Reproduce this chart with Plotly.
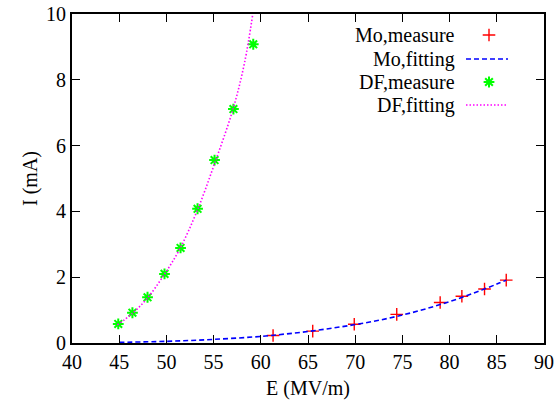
import plotly.graph_objects as go

# ---- data ----
mo_meas_E = [61.3, 65.5, 69.9, 74.4, 79.0, 81.3, 83.7, 86.0]
mo_meas_I = [0.23, 0.36, 0.57, 0.87, 1.23, 1.42, 1.64, 1.91]

mo_fit_E = [45, 50, 55, 60, 62.5, 65, 67.5, 70, 72.5, 75, 77.5, 80, 82.5, 85, 86]
mo_fit_I = [0.02, 0.05, 0.11, 0.20, 0.27, 0.35, 0.45, 0.56, 0.69, 0.85, 1.04, 1.26, 1.51, 1.79, 1.91]

df_meas_E = [44.9, 46.4, 48.0, 49.8, 51.5, 53.3, 55.1, 57.1, 59.2]
df_meas_I = [0.58, 0.92, 1.39, 2.10, 2.89, 4.08, 5.56, 7.11, 9.08]

df_fit_E = [44.8, 46.4, 48.0, 49.7, 51.4, 53.2, 55.1, 57.1, 58.3, 59.15]
df_fit_I = [0.55, 0.90, 1.37, 2.05, 2.85, 3.98, 5.45, 7.15, 8.55, 10.0]

legend_labels = ["Mo,measure", "Mo,fitting", "DF,measure", "DF,fitting"]
x_ticks = [40, 45, 50, 55, 60, 65, 70, 75, 80, 85, 90]
y_ticks = [0, 2, 4, 6, 8, 10]

FONT = "Liberation Serif, Times New Roman, Times, serif"
RED, BLUE, GREEN, MAGENTA = "#ff0000", "#0000ff", "#00ff00", "#ff00ff"

mo_marker = dict(symbol="cross-thin-open", size=9, color=RED, line=dict(color=RED, width=1.4))
df_marker = dict(symbol="asterisk-open", size=9, color=GREEN, line=dict(color=GREEN, width=2))
mo_line = dict(color=BLUE, width=1.6, dash="5px,3px", shape="spline")
df_line = dict(color=MAGENTA, width=1.6, dash="1.5px,2px", shape="spline")

fig = go.Figure()
fig.add_trace(go.Scatter(x=mo_meas_E, y=mo_meas_I, mode="markers", marker=mo_marker, showlegend=False))
fig.add_trace(go.Scatter(x=mo_fit_E, y=mo_fit_I, mode="lines", line=mo_line, showlegend=False))
fig.add_trace(go.Scatter(x=df_meas_E, y=df_meas_I, mode="markers", marker=df_marker, showlegend=False))
fig.add_trace(go.Scatter(x=df_fit_E, y=df_fit_I, mode="lines", line=df_line, showlegend=False))

# ---- gnuplot-style key (text right, sample on the right) on a pixel overlay axis ----
key_rows_y = [35, 59, 82, 105]
key_text_x = 457
key_sample_x = 489
key_line_x = [466, 508]
fig.add_trace(go.Scatter(x=[key_sample_x], y=[key_rows_y[0]], mode="markers", marker=mo_marker,
                         xaxis="x2", yaxis="y2", showlegend=False))
fig.add_trace(go.Scatter(x=key_line_x, y=[key_rows_y[1]] * 2, mode="lines",
                         line=dict(color=BLUE, width=1.6, dash="5px,3px"),
                         xaxis="x2", yaxis="y2", showlegend=False))
fig.add_trace(go.Scatter(x=[key_sample_x], y=[key_rows_y[2]], mode="markers", marker=df_marker,
                         xaxis="x2", yaxis="y2", showlegend=False))
fig.add_trace(go.Scatter(x=key_line_x, y=[key_rows_y[3]] * 2, mode="lines",
                         line=dict(color=MAGENTA, width=1.6, dash="1.5px,2px"),
                         xaxis="x2", yaxis="y2", showlegend=False))
for lab, yy in zip(legend_labels, key_rows_y):
    fig.add_annotation(x=key_text_x, y=yy, xref="x2", yref="y2", text=lab, showarrow=False,
                       xanchor="right", yanchor="middle", font=dict(family=FONT, size=20, color="black"))

axis_common = dict(showgrid=False, zeroline=False, ticks="inside", ticklen=8, tickwidth=1.2,
                   tickcolor="black", showline=True, linecolor="black", linewidth=2, mirror="ticks",
                   automargin=False, ticklabeloverflow="allow",
                   tickfont=dict(family=FONT, size=20, color="black"))

fig.update_layout(
    width=555, height=400, autosize=False,
    margin=dict(l=72, r=11, t=14, b=57),
    paper_bgcolor="white", plot_bgcolor="white",
    font=dict(family=FONT, size=20, color="black"),
    xaxis=dict(range=[40, 90], tickvals=x_ticks, ticktext=[str(v) for v in x_ticks],
               title=dict(text="E (MV/m)", font=dict(family=FONT, size=20), standoff=11),
               **axis_common),
    yaxis=dict(range=[0, 10], tickvals=y_ticks, ticktext=[str(v) for v in y_ticks],
               title=dict(text="I (mA)", font=dict(family=FONT, size=20), standoff=3),
               **axis_common),
    xaxis2=dict(range=[72, 544], overlaying="x", visible=False, fixedrange=True),
    yaxis2=dict(range=[343, 14], overlaying="y", visible=False, fixedrange=True),
    showlegend=False,
)

# remove the browser's default 8px body margin so the figure fills the 555x400 window
fig.write_html("out.html", config={"displayModeBar": False},
               post_script="document.body.style.margin='0';")
